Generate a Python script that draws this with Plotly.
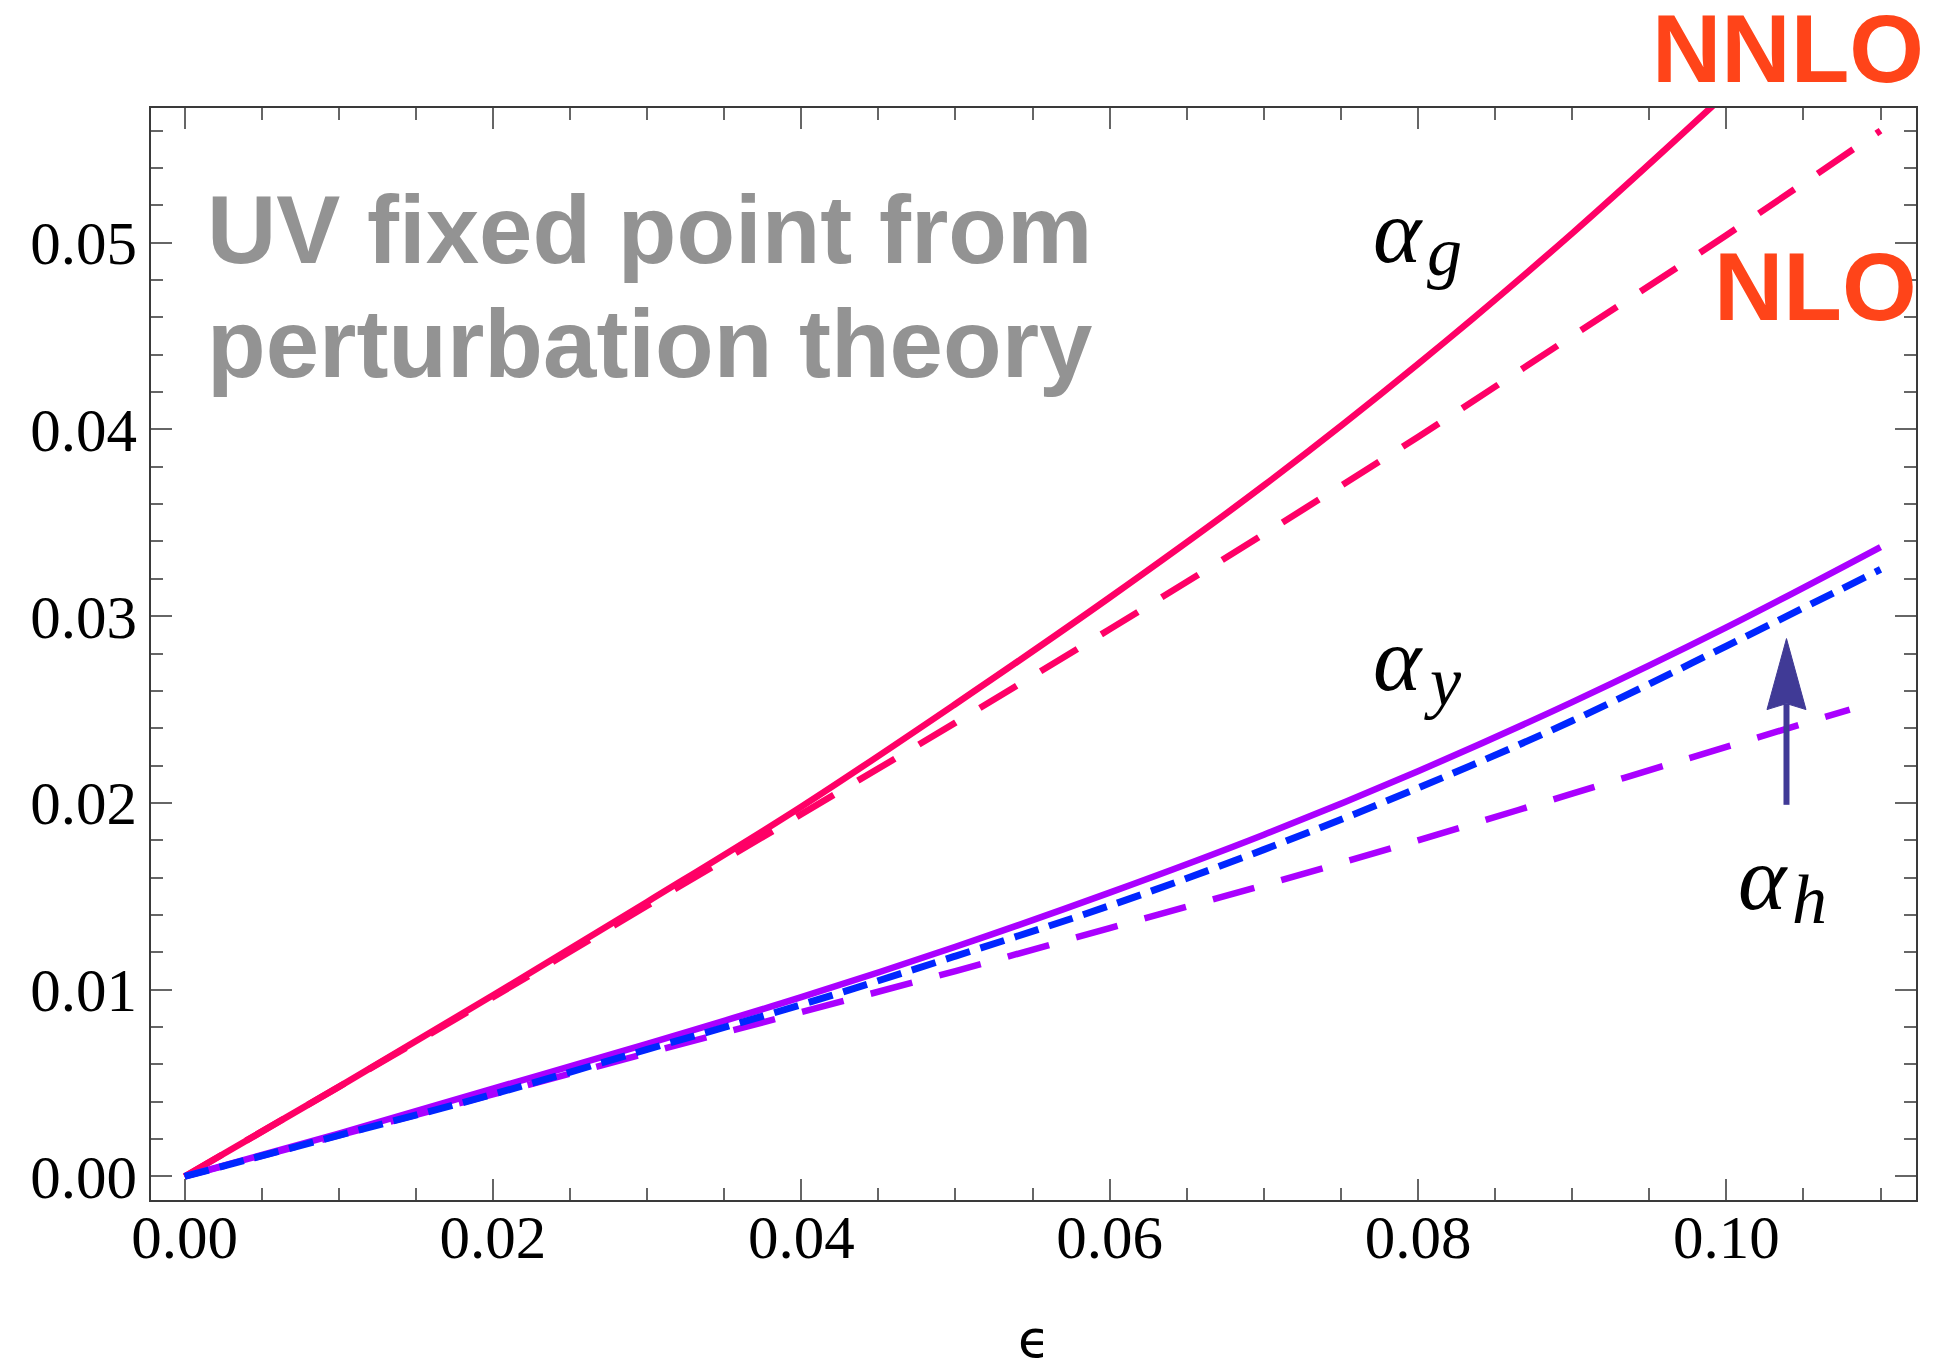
import plotly.graph_objects as go

# ---------------- data ----------------
eps = [0.00, 0.01, 0.02, 0.03, 0.04, 0.05, 0.06, 0.07, 0.08, 0.09, 0.10, 0.11]

alpha_g_nnlo_x = [0.00, 0.01, 0.02, 0.03, 0.04, 0.05, 0.06, 0.07, 0.08, 0.09, 0.10]
alpha_g_nnlo = [0.0, 0.0048, 0.0097, 0.0147, 0.0198, 0.0253, 0.0310, 0.0370, 0.0435, 0.0505, 0.0580]

alpha_g_nlo = [0.0, 0.0048, 0.0096, 0.0145, 0.0194, 0.0243, 0.0293, 0.0344, 0.0396, 0.0450, 0.0504, 0.0560]

alpha_y_nnlo = [0.0, 0.0023, 0.0047, 0.0071, 0.0096, 0.0123, 0.0152, 0.0183, 0.0217, 0.0254, 0.0294, 0.0337]

alpha_h_nnlo = [0.0, 0.0022, 0.0044, 0.0068, 0.0092, 0.0118, 0.0145, 0.0175, 0.0208, 0.0244, 0.0284, 0.0325]

alpha_y_nlo_x = [0.00, 0.01, 0.02, 0.03, 0.04, 0.05, 0.06, 0.07, 0.08, 0.09, 0.10, 0.108]
alpha_y_nlo = [0.0, 0.0022, 0.0044, 0.0066, 0.0088, 0.0110, 0.0133, 0.0156, 0.0180, 0.0205, 0.0230, 0.0250]

x_ticks = [0.00, 0.02, 0.04, 0.06, 0.08, 0.10]
y_ticks = [0.00, 0.01, 0.02, 0.03, 0.04, 0.05]
x_range = [-0.00218, 0.1123]
y_range = [-0.00126, 0.05721]

# arrow (data coords): x, tail y, tip y
arrow_x = 0.1039
arrow_y_tail = 0.0199
arrow_y_tip = 0.0288

# ---------------- style ----------------
PINK = "#FF0066"
PURPLE = "#AA00FF"
BLUE = "#0026FF"
ARROW = "#403A96"
ORANGE = "#FF4419"
GRAY = "#939393"

# page has an 8px body margin; size the figure so it fills the 1955x1361 window
W, H = 1947, 1353
M = dict(l=143, r=39, t=100, b=161)
plot_w = W - M["l"] - M["r"]
plot_h = H - M["t"] - M["b"]
px_x = (x_range[1] - x_range[0]) / plot_w   # data per pixel
px_y = (y_range[1] - y_range[0]) / plot_h

fig = go.Figure()

fig.add_trace(go.Scatter(x=alpha_g_nnlo_x, y=alpha_g_nnlo, mode="lines",
                         line=dict(color=PINK, width=6.5, shape="spline"), showlegend=False))
fig.add_trace(go.Scatter(x=eps, y=alpha_g_nlo, mode="lines",
                         line=dict(color=PINK, width=6.5, dash="43px,28px", shape="spline"), showlegend=False))
fig.add_trace(go.Scatter(x=eps, y=alpha_y_nnlo, mode="lines",
                         line=dict(color=PURPLE, width=6.5, shape="spline"), showlegend=False))
fig.add_trace(go.Scatter(x=alpha_y_nlo_x, y=alpha_y_nlo, mode="lines",
                         line=dict(color=PURPLE, width=6.5, dash="43px,28px", shape="spline"), showlegend=False))
fig.add_trace(go.Scatter(x=eps, y=alpha_h_nnlo, mode="lines",
                         line=dict(color=BLUE, width=7, dash="25px,11px", shape="spline"), showlegend=False))

# arrow: shaft + head polygon
head_len = 71 * px_y
head_hw = 19.5 * px_x
notch = 6 * px_y
fig.add_trace(go.Scatter(x=[arrow_x, arrow_x], y=[arrow_y_tail, arrow_y_tip - head_len + notch],
                         mode="lines", line=dict(color=ARROW, width=6), showlegend=False))
fig.add_trace(go.Scatter(
    x=[arrow_x, arrow_x + head_hw, arrow_x, arrow_x - head_hw, arrow_x],
    y=[arrow_y_tip, arrow_y_tip - head_len, arrow_y_tip - head_len + notch, arrow_y_tip - head_len, arrow_y_tip],
    mode="lines", fill="toself", fillcolor=ARROW, line=dict(color=ARROW, width=1), showlegend=False))

ann = []
# title text
ann.append(dict(text="UV fixed point from", xref="paper", yref="paper", x=0.0306, y=0.8887,
                xanchor="left", yanchor="middle", showarrow=False,
                font=dict(family="Liberation Sans", size=96, color=GRAY, weight="bold")))
ann.append(dict(text="perturbation theory", xref="paper", yref="paper", x=0.0306, y=0.7842,
                xanchor="left", yanchor="middle", showarrow=False,
                font=dict(family="Liberation Sans", size=96, color=GRAY, weight="bold")))
# NNLO / NLO
ann.append(dict(text="NNLO", xref="paper", yref="paper", x=0.9275, y=1.0545,
                xanchor="center", yanchor="middle", showarrow=False,
                font=dict(family="Liberation Sans", size=96, color=ORANGE, weight="bold")))
ann.append(dict(text="NLO", xref="paper", yref="paper", x=0.9428, y=0.8365,
                xanchor="center", yanchor="middle", showarrow=False,
                font=dict(family="Liberation Sans", size=96, color=ORANGE, weight="bold")))
# greek labels
labels = [("α", "g", 0.0787, 0.0506, 0.0817, 0.0495),
          ("α", "y", 0.0787, 0.0277, 0.0816, 0.0265),
          ("α", "h", 0.1024, 0.0160, 0.1054, 0.01484)]
for a, s, ax_, ay_, sx, sy in labels:
    ann.append(dict(text=f"<i>{a}</i>", x=ax_, y=ay_, xref="x", yref="y", xanchor="center",
                    yanchor="middle", showarrow=False,
                    font=dict(family="Liberation Serif", size=92, color="black")))
    ann.append(dict(text=f"<i>{s}</i>", x=sx, y=sy, xref="x", yref="y", xanchor="center",
                    yanchor="middle", showarrow=False,
                    font=dict(family="Liberation Serif", size=70, color="black")))
# x axis title
ann.append(dict(text="ϵ", xref="paper", yref="paper", x=0.5, y=-0.1274, xanchor="center",
                yanchor="middle", showarrow=False,
                font=dict(family="DejaVu Sans", size=52, color="black")))

axis_common = dict(showline=True, linecolor="#3a3a3a", linewidth=1.5, mirror="allticks",
                   ticks="inside", ticklen=21, tickwidth=1.5, tickcolor="#666666",
                   showgrid=False, zeroline=False, tickformat=".2f", automargin=False,
                   tickfont=dict(family="Liberation Serif", size=61, color="black"))

fig.update_layout(
    width=W, height=H, margin=M,
    plot_bgcolor="white", paper_bgcolor="white",
    xaxis=dict(range=x_range, tickvals=x_ticks, ticklabelstandoff=-17,
               minor=dict(dtick=0.005, tick0=0, ticks="inside", ticklen=12, tickwidth=1.5, tickcolor="#666666"),
               **axis_common),
    yaxis=dict(range=y_range, tickvals=y_ticks,
               minor=dict(dtick=0.002, tick0=0, ticks="inside", ticklen=12, tickwidth=1.5, tickcolor="#666666"),
               **axis_common),
    annotations=ann,
)

fig.write_html("out.html")
